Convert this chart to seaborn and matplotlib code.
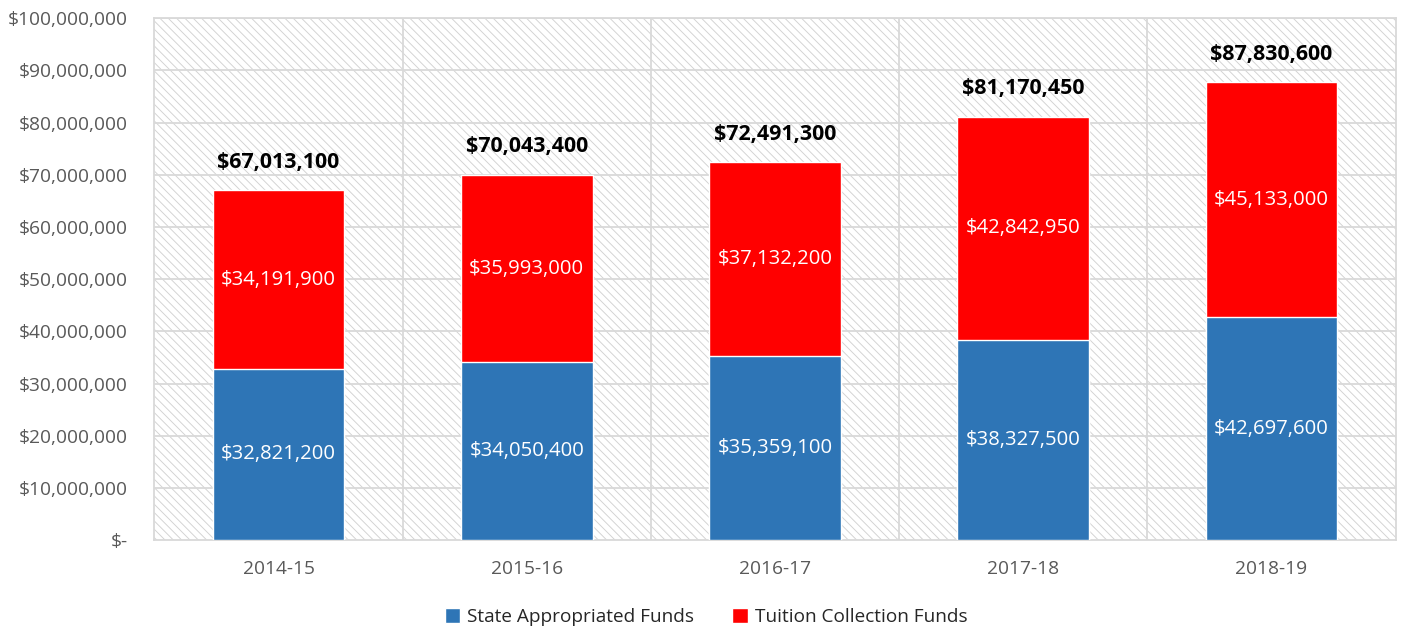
import matplotlib
matplotlib.use("Agg")
import matplotlib.pyplot as plt
import matplotlib.ticker as mticker
from matplotlib.patches import Rectangle
import seaborn as sns
import pandas as pd

# chart data
years = ['2014-15', '2015-16', '2016-17', '2017-18', '2018-19']
state_funds = [32821200, 34050400, 35359100, 38327500, 42697600]
tuition_funds = [34191900, 35993000, 37132200, 42842950, 45133000]
totals = [67013100, 70043400, 72491300, 81170450, 87830600]

df = pd.DataFrame({'year': years, 'state': state_funds, 'tuition': tuition_funds})
df['total'] = df['state'] + df['tuition']

sns.set_style('white')
plt.rcParams['font.family'] = ['Open Sans', 'DejaVu Sans']
plt.rcParams['hatch.linewidth'] = 0.65

fig = plt.figure(figsize=(14.04, 6.31), dpi=100)
ax = fig.add_axes([0.110, 0.144, 0.884, 0.827])

# hatched plot background
ax.patch.set_visible(False)
bg = Rectangle((0, 0), 1, 1, transform=ax.transAxes, facecolor='white',
               edgecolor='#d2d2d2', hatch='\\\\\\\\', linewidth=0, zorder=0)
ax.add_patch(bg)

# stacked bars: red total behind, blue state part on top
sns.barplot(data=df, x='year', y='total', color='#ff0000', saturation=1,
            width=0.53, ax=ax, label='Tuition Collection Funds', zorder=3)
sns.barplot(data=df, x='year', y='state', color='#2e75b6', saturation=1,
            width=0.53, ax=ax, label='State Appropriated Funds', zorder=3)

# grid lines
for y in range(10000000, 100000001, 10000000):
    ax.axhline(y, color='#d9d9d9', lw=1.3, zorder=1)
for x in [0.5, 1.5, 2.5, 3.5]:
    ax.axvline(x, color='#d9d9d9', lw=1.3, zorder=1)

ax.set_xlim(-0.5, 4.5)
ax.set_ylim(0, 100000000)
ax.set_yticks(range(0, 100000001, 10000000))
ax.yaxis.set_major_formatter(mticker.FuncFormatter(
    lambda v, p: '$-' if v == 0 else '${:,.0f}'.format(v)))
ax.tick_params(axis='both', labelsize=13.8, colors='#595959', length=0)
ax.tick_params(axis='y', pad=19)
ax.tick_params(axis='x', pad=14)
ax.set_xlabel('')
ax.set_ylabel('')
for s in ax.spines.values():
    s.set_color('#d9d9d9')
    s.set_linewidth(1.3)

# value labels
for i in range(len(years)):
    ax.text(i, state_funds[i] / 2, '${:,}'.format(state_funds[i]),
            ha='center', va='center', color='white', fontsize=14.6, zorder=5)
    ax.text(i, state_funds[i] + tuition_funds[i] / 2, '${:,}'.format(tuition_funds[i]),
            ha='center', va='center', color='white', fontsize=14.6, zorder=5)
    ax.text(i, totals[i] + 3300000, '${:,}'.format(totals[i]),
            ha='center', va='bottom', color='black', fontsize=15.4,
            fontweight='bold', zorder=5)

h, l = ax.get_legend_handles_labels()
if ax.get_legend() is not None:
    ax.get_legend().remove()
order = [l.index('State Appropriated Funds'), l.index('Tuition Collection Funds')]
fig.legend([h[k] for k in order], [l[k] for k in order], loc='center',
           bbox_to_anchor=(0.503, 0.022), ncol=2, frameon=False, fontsize=13.7,
           handlelength=0.8, handleheight=0.8, handletextpad=0.4, columnspacing=2.0)

fig.savefig('out.png', dpi=100)
